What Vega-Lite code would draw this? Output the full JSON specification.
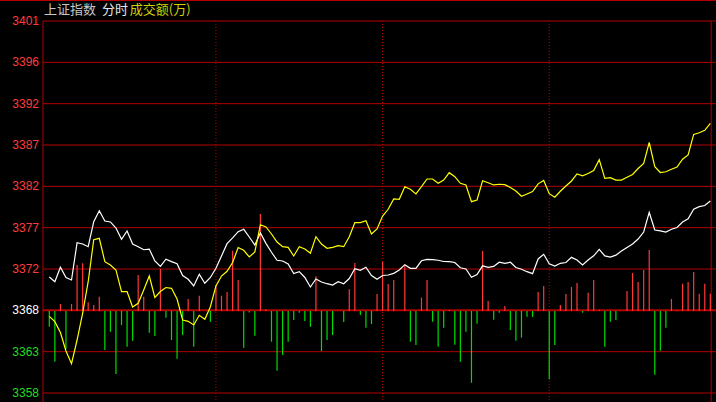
{
"$schema":"https://vega.github.io/schema/vega-lite/v6.json",
"width":716,"height":402,"autosize":"none","padding":0,
"background":"#000000",
"config":{"view":{"stroke":null}},
"datasets":{
"grid":[{"p":3358.64,"label":"3358"},{"p":3363.42,"label":"3363"},{"p":3368.2,"label":"3368"},{"p":3372.98,"label":"3372"},{"p":3377.76,"label":"3377"},{"p":3382.54,"label":"3382"},{"p":3387.32,"label":"3387"},{"p":3392.1,"label":"3392"},{"p":3396.88,"label":"3396"},{"p":3401.66,"label":"3401"}],
"dividers":[{"t":30},{"t":60},{"t":90}],
"minutes":[
{"t":0,"weighted":3372.06,"unweighted":3367.51,"amt":-15.7},
{"t":1,"weighted":3371.51,"unweighted":3366.89,"amt":-50.7},
{"t":2,"weighted":3373.18,"unweighted":3365.64,"amt":7},
{"t":3,"weighted":3372.00,"unweighted":3363.50,"amt":-38.3},
{"t":4,"weighted":3371.71,"unweighted":3362.03,"amt":7},
{"t":5,"weighted":3376.02,"unweighted":3364.77,"amt":46},
{"t":6,"weighted":3375.87,"unweighted":3367.86,"amt":47.7},
{"t":7,"weighted":3375.56,"unweighted":3371.51,"amt":8.7},
{"t":8,"weighted":3378.45,"unweighted":3376.37,"amt":6},
{"t":9,"weighted":3379.72,"unweighted":3376.53,"amt":14.3},
{"t":10,"weighted":3378.53,"unweighted":3373.83,"amt":-39},
{"t":11,"weighted":3378.42,"unweighted":3373.44,"amt":-20.7},
{"t":12,"weighted":3377.72,"unweighted":3372.87,"amt":-63},
{"t":13,"weighted":3376.42,"unweighted":3370.36,"amt":-14},
{"t":14,"weighted":3377.38,"unweighted":3370.36,"amt":-35.7},
{"t":15,"weighted":3375.87,"unweighted":3368.59,"amt":-29.7},
{"t":16,"weighted":3375.56,"unweighted":3369.02,"amt":36},
{"t":17,"weighted":3375.21,"unweighted":3370.55,"amt":14.3},
{"t":18,"weighted":3375.29,"unweighted":3372.17,"amt":-21.7},
{"t":19,"weighted":3373.91,"unweighted":3369.69,"amt":-25},
{"t":20,"weighted":3373.29,"unweighted":3370.38,"amt":42},
{"t":21,"weighted":3374.12,"unweighted":3370.84,"amt":-6.7},
{"t":22,"weighted":3373.83,"unweighted":3370.75,"amt":-29},
{"t":23,"weighted":3373.59,"unweighted":3369.51,"amt":-47.7},
{"t":24,"weighted":3372.23,"unweighted":3367.08,"amt":-24},
{"t":25,"weighted":3371.79,"unweighted":3366.93,"amt":12},
{"t":26,"weighted":3371.02,"unweighted":3366.51,"amt":-35.7},
{"t":27,"weighted":3372.37,"unweighted":3367.63,"amt":15.3},
{"t":28,"weighted":3371.33,"unweighted":3367.16,"amt":0},
{"t":29,"weighted":3372.00,"unweighted":3368.62,"amt":-10.7},
{"t":30,"weighted":3373.06,"unweighted":3371.02,"amt":26},
{"t":31,"weighted":3374.49,"unweighted":3372.17,"amt":15.3},
{"t":32,"weighted":3375.91,"unweighted":3372.72,"amt":19},
{"t":33,"weighted":3376.57,"unweighted":3373.73,"amt":60.3},
{"t":34,"weighted":3377.30,"unweighted":3375.47,"amt":31},
{"t":35,"weighted":3377.57,"unweighted":3375.14,"amt":-36.7},
{"t":36,"weighted":3376.68,"unweighted":3374.37,"amt":-1.5},
{"t":37,"weighted":3375.76,"unweighted":3374.95,"amt":-24.7},
{"t":38,"weighted":3377.15,"unweighted":3378.10,"amt":97},
{"t":39,"weighted":3375.95,"unweighted":3377.84,"amt":1.7},
{"t":40,"weighted":3374.92,"unweighted":3377.03,"amt":-30.7},
{"t":41,"weighted":3373.99,"unweighted":3376.10,"amt":-59.7},
{"t":42,"weighted":3373.91,"unweighted":3375.56,"amt":-44},
{"t":43,"weighted":3373.56,"unweighted":3375.49,"amt":-30.7},
{"t":44,"weighted":3372.46,"unweighted":3374.49,"amt":-9},
{"t":45,"weighted":3372.67,"unweighted":3375.56,"amt":-1.7},
{"t":46,"weighted":3372.00,"unweighted":3375.29,"amt":-10},
{"t":47,"weighted":3370.90,"unweighted":3374.80,"amt":-15.7},
{"t":48,"weighted":3371.83,"unweighted":3376.72,"amt":34.7},
{"t":49,"weighted":3371.48,"unweighted":3375.87,"amt":-40},
{"t":50,"weighted":3371.28,"unweighted":3375.38,"amt":-29},
{"t":51,"weighted":3371.13,"unweighted":3375.49,"amt":-24},
{"t":52,"weighted":3371.51,"unweighted":3375.68,"amt":0},
{"t":53,"weighted":3371.28,"unweighted":3375.56,"amt":-11},
{"t":54,"weighted":3371.88,"unweighted":3376.72,"amt":21.7},
{"t":55,"weighted":3373.02,"unweighted":3378.34,"amt":48},
{"t":56,"weighted":3372.83,"unweighted":3378.34,"amt":-4},
{"t":57,"weighted":3373.18,"unweighted":3378.57,"amt":-16.7},
{"t":58,"weighted":3372.23,"unweighted":3377.03,"amt":-13},
{"t":59,"weighted":3371.79,"unweighted":3377.61,"amt":17},
{"t":60,"weighted":3372.23,"unweighted":3379.11,"amt":49},
{"t":61,"weighted":3372.29,"unweighted":3379.89,"amt":27},
{"t":62,"weighted":3372.48,"unweighted":3381.08,"amt":31},
{"t":63,"weighted":3372.87,"unweighted":3381.04,"amt":0},
{"t":64,"weighted":3373.48,"unweighted":3382.50,"amt":46},
{"t":65,"weighted":3373.06,"unweighted":3382.20,"amt":-30.7},
{"t":66,"weighted":3373.06,"unweighted":3381.66,"amt":-34},
{"t":67,"weighted":3373.93,"unweighted":3382.50,"amt":13.3},
{"t":68,"weighted":3374.10,"unweighted":3383.39,"amt":31},
{"t":69,"weighted":3374.07,"unweighted":3383.39,"amt":-10.7},
{"t":70,"weighted":3373.99,"unweighted":3382.89,"amt":-35.7},
{"t":71,"weighted":3373.85,"unweighted":3383.27,"amt":-16.7},
{"t":72,"weighted":3373.83,"unweighted":3384.12,"amt":1},
{"t":73,"weighted":3373.73,"unweighted":3383.66,"amt":-33.7},
{"t":74,"weighted":3373.12,"unweighted":3382.89,"amt":-50.7},
{"t":75,"weighted":3372.98,"unweighted":3382.70,"amt":-20.7},
{"t":76,"weighted":3372.02,"unweighted":3380.77,"amt":-71.7},
{"t":77,"weighted":3372.35,"unweighted":3380.96,"amt":-12.7},
{"t":78,"weighted":3373.35,"unweighted":3383.19,"amt":60},
{"t":79,"weighted":3373.18,"unweighted":3382.96,"amt":10},
{"t":80,"weighted":3373.28,"unweighted":3382.70,"amt":-8.7},
{"t":81,"weighted":3373.77,"unweighted":3382.78,"amt":-1.7},
{"t":82,"weighted":3373.64,"unweighted":3382.73,"amt":5},
{"t":83,"weighted":3373.76,"unweighted":3382.41,"amt":-19},
{"t":84,"weighted":3373.16,"unweighted":3382.00,"amt":-29.7},
{"t":85,"weighted":3372.95,"unweighted":3381.39,"amt":-26.7},
{"t":86,"weighted":3372.67,"unweighted":3381.66,"amt":-5.7},
{"t":87,"weighted":3372.44,"unweighted":3381.94,"amt":-6},
{"t":88,"weighted":3374.14,"unweighted":3382.83,"amt":19},
{"t":89,"weighted":3374.68,"unweighted":3383.22,"amt":25},
{"t":90,"weighted":3373.59,"unweighted":3381.69,"amt":-68.3},
{"t":91,"weighted":3373.33,"unweighted":3381.29,"amt":-34},
{"t":92,"weighted":3373.64,"unweighted":3381.97,"amt":6},
{"t":93,"weighted":3373.73,"unweighted":3382.58,"amt":17},
{"t":94,"weighted":3374.33,"unweighted":3383.16,"amt":24},
{"t":95,"weighted":3374.02,"unweighted":3383.97,"amt":28},
{"t":96,"weighted":3373.44,"unweighted":3383.76,"amt":-1.7},
{"t":97,"weighted":3374.02,"unweighted":3384.03,"amt":18.3},
{"t":98,"weighted":3374.51,"unweighted":3384.37,"amt":31},
{"t":99,"weighted":3375.24,"unweighted":3385.63,"amt":1},
{"t":100,"weighted":3374.49,"unweighted":3383.47,"amt":-35.7},
{"t":101,"weighted":3374.35,"unweighted":3383.55,"amt":-10.7},
{"t":102,"weighted":3374.58,"unweighted":3383.27,"amt":-9},
{"t":103,"weighted":3375.06,"unweighted":3383.27,"amt":0},
{"t":104,"weighted":3375.47,"unweighted":3383.59,"amt":20},
{"t":105,"weighted":3375.87,"unweighted":3383.91,"amt":38},
{"t":106,"weighted":3376.45,"unweighted":3384.60,"amt":29},
{"t":107,"weighted":3377.26,"unweighted":3385.20,"amt":41},
{"t":108,"weighted":3379.52,"unweighted":3387.61,"amt":61},
{"t":109,"weighted":3377.49,"unweighted":3384.81,"amt":-63.7},
{"t":110,"weighted":3377.40,"unweighted":3384.14,"amt":-39.7},
{"t":111,"weighted":3377.26,"unweighted":3384.23,"amt":-16.7},
{"t":112,"weighted":3377.58,"unweighted":3384.51,"amt":12},
{"t":113,"weighted":3377.78,"unweighted":3384.78,"amt":1},
{"t":114,"weighted":3378.42,"unweighted":3385.68,"amt":27.3},
{"t":115,"weighted":3378.79,"unweighted":3386.17,"amt":29},
{"t":116,"weighted":3379.90,"unweighted":3388.54,"amt":39},
{"t":117,"weighted":3380.19,"unweighted":3388.74,"amt":17.3},
{"t":118,"weighted":3380.32,"unweighted":3389.02,"amt":27.3},
{"t":119,"weighted":3380.85,"unweighted":3389.83,"amt":17.3}
]},
"resolve":{"scale":{"y":"independent"},"axis":{"y":"independent"}},
"layer":[
{"layer":[
{"data":{"name":"grid"},
 "mark":{"type":"rule","color":"#b40000"},
 "encoding":{
  "x":{"datum":-1.134,"type":"quantitative","scale":{"domain":[-8.875,120.02],"nice":false,"zero":false},"axis":null},
  "x2":{"datum":120.02},
  "y":{"field":"p","type":"quantitative","scale":{"domain":[3357.6,3404.09],"nice":false,"zero":false},"axis":null},
  "strokeWidth":{"condition":{"test":"abs(datum.p - 3368.2) < 0.01","value":2},"value":1}
 }},
{"data":{"name":"grid"},
 "mark":{"type":"text","align":"right","baseline":"middle","font":"Liberation Sans","fontSize":12},
 "encoding":{
  "x":{"datum":-1.854,"type":"quantitative","scale":{"domain":[-8.875,120.02],"nice":false,"zero":false},"axis":null},
  "y":{"field":"p","type":"quantitative","scale":{"domain":[3357.6,3404.09],"nice":false,"zero":false},"axis":null},
  "text":{"field":"label"},
  "color":{"condition":[{"test":"datum.p > 3369","value":"#ff3c3c"},{"test":"datum.p > 3366","value":"#ffffff"}],"value":"#22dd22"}
 }},
{"data":{"values":[{}]},
 "mark":{"type":"rule","color":"#b40000","strokeWidth":2},
 "encoding":{"y":{"datum":3404.09,"type":"quantitative","scale":{"domain":[3357.6,3404.09],"nice":false,"zero":false},"axis":null}}},
{"data":{"name":"dividers"},
 "mark":{"type":"rule","color":"#c00000","strokeDash":[1,2]},
 "encoding":{
  "x":{"field":"t","type":"quantitative","scale":{"domain":[-8.875,120.02],"nice":false,"zero":false},"axis":null},
  "y":{"datum":3401.66,"type":"quantitative","scale":{"domain":[3357.6,3404.09],"nice":false,"zero":false},"axis":null},
  "y2":{"datum":3357.6}}},
{"data":{"values":[{}]},
 "mark":{"type":"rule","color":"#b40000"},
 "encoding":{
  "x":{"datum":-1.134,"type":"quantitative","scale":{"domain":[-8.875,120.02],"nice":false,"zero":false},"axis":null},
  "y":{"datum":3401.66,"type":"quantitative","scale":{"domain":[3357.6,3404.09],"nice":false,"zero":false},"axis":null},
  "y2":{"datum":3357.6}}},
{"data":{"values":[{}]},
 "mark":{"type":"rule","color":"#b40000"},
 "encoding":{
  "x":{"datum":119.15,"type":"quantitative","scale":{"domain":[-8.875,120.02],"nice":false,"zero":false},"axis":null},
  "y":{"datum":3401.66,"type":"quantitative","scale":{"domain":[3357.6,3404.09],"nice":false,"zero":false},"axis":null},
  "y2":{"datum":3357.6}}},
{"data":{"values":[{}]},
 "mark":{"type":"text","align":"left","baseline":"middle","font":"Noto Sans CJK SC","fontSize":13,"color":"#c8c8c8"},
 "encoding":{
  "x":{"datum":-0.95,"type":"quantitative","scale":{"domain":[-8.875,120.02],"nice":false,"zero":false},"axis":null},
  "y":{"datum":3402.93,"type":"quantitative","scale":{"domain":[3357.6,3404.09],"nice":false,"zero":false},"axis":null},
  "text":{"value":"上证指数"}}},
{"data":{"values":[{}]},
 "mark":{"type":"text","align":"left","baseline":"middle","font":"Noto Sans CJK SC","fontSize":13,"color":"#e8e8e8"},
 "encoding":{
  "x":{"datum":9.5,"type":"quantitative","scale":{"domain":[-8.875,120.02],"nice":false,"zero":false},"axis":null},
  "y":{"datum":3402.93,"type":"quantitative","scale":{"domain":[3357.6,3404.09],"nice":false,"zero":false},"axis":null},
  "text":{"value":"分时"}}},
{"data":{"values":[{}]},
 "mark":{"type":"text","align":"left","baseline":"middle","font":"Noto Sans CJK SC","fontSize":13,"color":"#d2d200"},
 "encoding":{
  "x":{"datum":14.5,"type":"quantitative","scale":{"domain":[-8.875,120.02],"nice":false,"zero":false},"axis":null},
  "y":{"datum":3402.93,"type":"quantitative","scale":{"domain":[3357.6,3404.09],"nice":false,"zero":false},"axis":null},
  "text":{"value":"成交额(万)"}}}
]},
{"data":{"name":"minutes"},
 "mark":{"type":"rule","strokeWidth":1.2},
 "encoding":{
  "x":{"field":"t","type":"quantitative","scale":{"domain":[-8.875,120.02],"nice":false,"zero":false},"axis":null},
  "y":{"field":"amt","type":"quantitative","scale":{"domain":[-91,311],"nice":false,"zero":false},"axis":null},
  "y2":{"datum":0},
  "color":{"condition":{"test":"datum.amt > 0","value":"#ff3838"},"value":"#00dc00"}}},
{"layer":[
{"data":{"name":"minutes"},
 "mark":{"type":"line","color":"#ffffff","strokeWidth":1.2},
 "encoding":{
  "x":{"field":"t","type":"quantitative","scale":{"domain":[-8.875,120.02],"nice":false,"zero":false},"axis":null},
  "y":{"field":"weighted","type":"quantitative","scale":{"domain":[3357.6,3404.09],"nice":false,"zero":false},"axis":null}}},
{"data":{"name":"minutes"},
 "mark":{"type":"line","color":"#ffff00","strokeWidth":1.2},
 "encoding":{
  "x":{"field":"t","type":"quantitative","scale":{"domain":[-8.875,120.02],"nice":false,"zero":false},"axis":null},
  "y":{"field":"unweighted","type":"quantitative","scale":{"domain":[3357.6,3404.09],"nice":false,"zero":false},"axis":null}}}
]}
]
}
